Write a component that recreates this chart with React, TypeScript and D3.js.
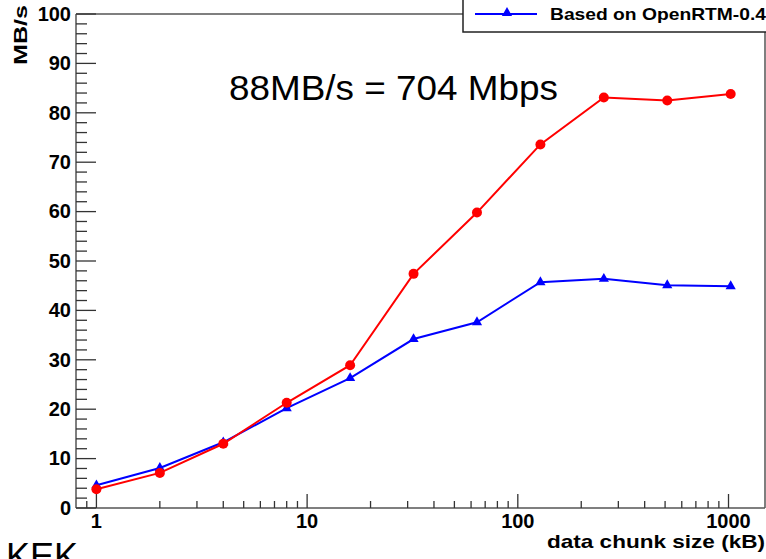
import React, { useRef, useEffect } from "react";
import * as d3 from "d3";

// chunk sizes (kB)
const chunkSizes = [1, 2, 4, 8, 16, 32, 64, 128, 256, 512, 1024];
// red series (new implementation)
const redValues = [3.8, 7.1, 13.0, 21.3, 28.9, 47.4, 59.8, 73.6, 83.1, 82.5, 83.8];
// blue series: Based on OpenRTM-0.4
const blueValues = [4.6, 8.1, 13.3, 20.2, 26.3, 34.2, 37.6, 45.7, 46.4, 45.1, 44.9];

const xTickLabels = [1, 10, 100, 1000];
const yTickLabels = [0, 10, 20, 30, 40, 50, 60, 70, 80, 90, 100];

const W = 766;
const H = 559;

const Chart = () => {
  const ref = useRef<SVGSVGElement>(null);

  useEffect(() => {
    const svg = d3.select(ref.current);
    svg.selectAll("*").remove();

    const left = 76;
    const right = 765;
    const top = 14;
    const bottom = 508;
    const font = "'Liberation Sans', Arial, sans-serif";
    const axisColor = "#555";

    const x = d3.scaleLog().domain([0.8, 1490]).range([left, right]);
    const y = d3.scaleLinear().domain([0, 100]).range([bottom, top]);

    svg.append("rect").attr("width", W).attr("height", H).attr("fill", "white");

    // frame
    const frame = svg.append("g").attr("stroke", axisColor).attr("stroke-width", 1.5);
    frame.append("line").attr("x1", left).attr("x2", right).attr("y1", top).attr("y2", top);
    frame.append("line").attr("x1", right).attr("x2", right).attr("y1", top).attr("y2", bottom);
    frame.append("line").attr("x1", left).attr("x2", left).attr("y1", top).attr("y2", bottom);
    frame.append("line").attr("x1", left).attr("x2", right).attr("y1", bottom).attr("y2", bottom);

    // y ticks
    const yMinor = d3.range(0, 101, 2);
    svg
      .append("g")
      .selectAll("line")
      .data(yMinor)
      .join("line")
      .attr("x1", left)
      .attr("x2", (d) => left + (d % 10 === 0 ? 20 : 11))
      .attr("y1", (d) => y(d))
      .attr("y2", (d) => y(d))
      .attr("stroke", "#333")
      .attr("stroke-width", 1.3);

    svg
      .append("g")
      .selectAll("text")
      .data(yTickLabels)
      .join("text")
      .attr("x", left - 5)
      .attr("y", (d) => y(d))
      .attr("dy", "0.34em")
      .attr("text-anchor", "end")
      .attr("font-family", font)
      .attr("font-weight", "bold")
      .attr("font-size", 20)
      .text((d) => d);

    // x ticks
    const xMinor: number[] = [0.9];
    [1, 10, 100].forEach((dec) => {
      for (let k = 1; k <= 9; k++) xMinor.push(k * dec);
    });
    xMinor.push(1000);
    svg
      .append("g")
      .selectAll("line")
      .data(xMinor)
      .join("line")
      .attr("x1", (d) => x(d))
      .attr("x2", (d) => x(d))
      .attr("y1", bottom)
      .attr("y2", (d) => bottom - (xTickLabels.includes(d) ? 14 : 7))
      .attr("stroke", "#333")
      .attr("stroke-width", 1.3);

    svg
      .append("g")
      .selectAll("text")
      .data(xTickLabels)
      .join("text")
      .attr("x", (d) => x(d))
      .attr("y", 528)
      .attr("text-anchor", "middle")
      .attr("font-family", font)
      .attr("font-weight", "bold")
      .attr("font-size", 20)
      .text((d) => d);

    // axis titles
    svg
      .append("text")
      .attr("transform", "translate(27,5) rotate(-90)")
      .attr("text-anchor", "end")
      .attr("font-family", font)
      .attr("font-weight", "bold")
      .attr("font-size", 18)
      .attr("textLength", 60)
      .attr("lengthAdjust", "spacingAndGlyphs")
      .text("MB/s");

    svg
      .append("text")
      .attr("x", 765)
      .attr("y", 548)
      .attr("text-anchor", "end")
      .attr("font-family", font)
      .attr("font-weight", "bold")
      .attr("font-size", 19)
      .attr("textLength", 218)
      .attr("lengthAdjust", "spacingAndGlyphs")
      .text("data chunk size (kB)");

    // series
    const line = d3
      .line<number>()
      .x((d, i) => x(chunkSizes[i]))
      .y((d) => y(d));

    svg
      .append("path")
      .attr("d", line(blueValues))
      .attr("fill", "none")
      .attr("stroke", "#0000ff")
      .attr("stroke-width", 2);

    svg
      .append("g")
      .selectAll("path")
      .data(blueValues)
      .join("path")
      .attr("d", d3.symbol(d3.symbolTriangle, 45))
      .attr("transform", (d, i) => `translate(${x(chunkSizes[i])},${y(d)})`)
      .attr("fill", "#0000ff");

    svg
      .append("path")
      .attr("d", line(redValues))
      .attr("fill", "none")
      .attr("stroke", "#ff0000")
      .attr("stroke-width", 2);

    svg
      .append("g")
      .selectAll("circle")
      .data(redValues)
      .join("circle")
      .attr("cx", (d, i) => x(chunkSizes[i]))
      .attr("cy", (d) => y(d))
      .attr("r", 5)
      .attr("fill", "#ff0000");

    // annotation
    svg
      .append("text")
      .attr("x", 229)
      .attr("y", 100)
      .attr("font-family", font)
      .attr("font-size", 35)
      .attr("textLength", 329)
      .attr("lengthAdjust", "spacingAndGlyphs")
      .text("88MB/s = 704 Mbps");

    // legend
    const lg = svg.append("g");
    lg.append("rect")
      .attr("x", 463)
      .attr("y", -40)
      .attr("width", 340)
      .attr("height", 72)
      .attr("fill", "white")
      .attr("stroke", "#222")
      .attr("stroke-width", 1.5);
    lg.append("line")
      .attr("x1", 475)
      .attr("x2", 537)
      .attr("y1", 14)
      .attr("y2", 14)
      .attr("stroke", "#0000ff")
      .attr("stroke-width", 2);
    lg.append("path")
      .attr("d", d3.symbol(d3.symbolTriangle, 45))
      .attr("transform", "translate(507,13)")
      .attr("fill", "#0000ff");
    lg.append("text")
      .attr("x", 550)
      .attr("y", 20)
      .attr("font-family", font)
      .attr("font-weight", "bold")
      .attr("font-size", 17)
      .attr("textLength", 216)
      .attr("lengthAdjust", "spacingAndGlyphs")
      .text("Based on OpenRTM-0.4");

    // KEK
    svg
      .append("text")
      .attr("x", 6)
      .attr("y", 569)
      .attr("font-family", font)
      .attr("font-size", 36)
      .text("KEK");
  }, []);

  return (
    <svg
      ref={ref}
      width={W}
      height={H}
      style={{ position: "absolute", left: 0, top: 0 }}
    ></svg>
  );
};

export default function App() {
  return <Chart />;
}
